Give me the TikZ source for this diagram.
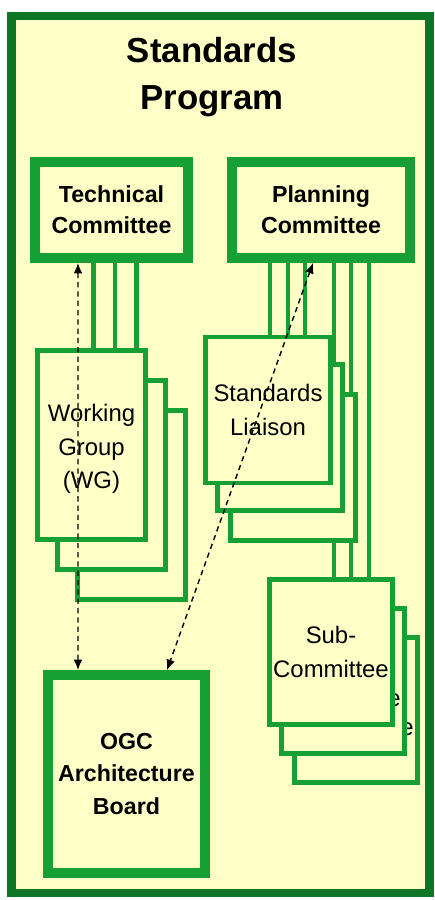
\documentclass[tikz,border=0pt]{standalone}
\usepackage{fontspec}
\setmainfont{Liberation Sans}
\usetikzlibrary{arrows.meta,backgrounds}
\definecolor{ogcgreen}{RGB}{22,160,52}
\definecolor{ogcdark}{RGB}{12,118,38}
\definecolor{ogcpaper}{RGB}{255,255,200}

\begin{document}
\begin{tikzpicture}[>={Latex[length=6pt,width=5pt]}, x=0.02cm, y=-0.02cm,
    committee/.style={draw=ogcgreen, line width=5.6pt, fill=ogcpaper, align=center, inner sep=0pt,
        font=\bfseries\fontsize{13.2}{17.8}\selectfont},
    group/.style={draw=ogcgreen, line width=2.8pt, fill=ogcpaper, align=center, inner sep=0pt,
        font=\fontsize{13.6}{19.2}\selectfont},
    wire/.style={ogcgreen, line width=2.8pt},
    liaison/.style={<->, line width=0.8pt, dash pattern=on 3pt off 2.3pt}]
    \useasboundingbox (0,0) rectangle (434,900);

    \node[font=\bfseries\fontsize{19.8}{27}\selectfont, align=center] (title) at (212,77) {Standards\\Program};

    % Committees
    \node[committee, minimum width=3.06cm, minimum height=1.92cm] (tc) at (111.5,210) {Technical\\Committee};
    \node[committee, minimum width=3.56cm, minimum height=1.92cm] (pc) at (321,210) {Planning\\Committee};

    % Working groups
    \foreach \i/\dx/\dy in {3/40/60, 2/20/30}
        \node[group, minimum width=2.16cm, minimum height=3.78cm] (wg\i) at (91.5+\dx,445+\dy) {};
    \node[group, minimum width=2.16cm, minimum height=3.78cm, text depth=0pt] (wg1) at (91.5,445) {};
    \node[group, draw=none, fill=none] (wglabel) at (wg1.center) [yshift=-0.08cm] {Working\\Group\\(WG)};

    % Liaisons
    \foreach \i/\dx/\dy in {3/25/60, 2/12/30}
        \node[group, minimum width=2.5cm, minimum height=2.92cm] (sl\i) at (268+\dx,407.5+\dy) {};
    \node[group, minimum width=2.5cm, minimum height=2.92cm] (sl1) at (268,407.5) [yshift=-0.05cm] {Standards\\Liaison};

    % Sub-committees
    \foreach \i/\dx/\dy in {3/25/58, 2/12/29, 1/0/0}
        \node[group, minimum width=2.46cm, minimum height=2.9cm] (sub\i) at (331+\dx,652+\dy) {Sub-\\Committee};

    % Architecture board
    \node[committee, minimum width=3.14cm, minimum height=3.96cm, font=\bfseries\fontsize{13.2}{18.3}\selectfont]
        (ogc) at (126.5,774) {OGC\\Architecture\\Board};

    \draw[liaison] ([xshift=-0.67cm]tc.south) -- ([xshift=-0.97cm]ogc.north);
    \draw[liaison] ([xshift=-0.16cm]pc.south) -- ([xshift=0.81cm]ogc.north);

    \begin{scope}[on background layer]
        \draw[ogcdark, line width=5.1pt, fill=ogcpaper] (11.5,16) rectangle (429.5,893);
        \foreach \dx in {-0.36,0.07,0.5}
            \draw[wire] ([xshift=\dx cm]tc.south) -- ([xshift=\dx cm]tc.south |- wg1.north);
        \foreach \dx in {-1.02,-0.66,-0.32}
            \draw[wire] ([xshift=\dx cm]pc.south) -- ([xshift=\dx cm]pc.south |- sl1.north);
        \foreach \dx in {0.26,0.6,0.96}
            \draw[wire] ([xshift=\dx cm]pc.south) -- ([xshift=\dx cm]pc.south |- sub1.north);
    \end{scope}
\end{tikzpicture}
\end{document}
